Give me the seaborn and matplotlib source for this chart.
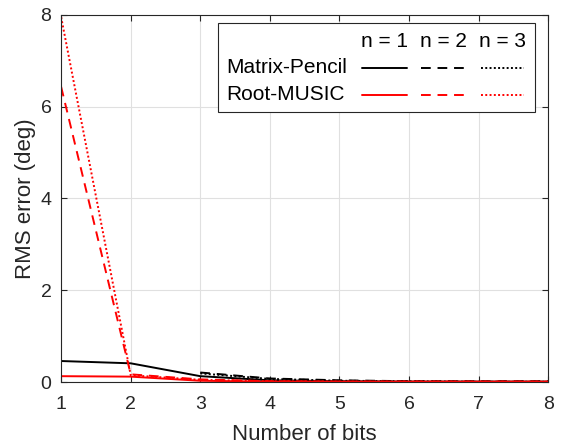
import numpy as np
import pandas as pd
import matplotlib
matplotlib.use("Agg")
import matplotlib.pyplot as plt
import seaborn as sns
from matplotlib.lines import Line2D
from matplotlib.patches import Rectangle

bits = [1, 2, 3, 4, 5, 6, 7, 8]
mp_n1 = [0.46, 0.41, 0.13, 0.04, 0.02, 0.01, 0.01, 0.01]
mp_n2 = [np.nan, np.nan, 0.21, 0.08, 0.04, 0.02, 0.02, 0.02]
mp_n3 = [np.nan, np.nan, 0.19, 0.07, 0.03, 0.02, 0.01, 0.01]
rm_n1 = [0.13, 0.12, 0.03, 0.01, 0.01, 0.01, 0.01, 0.01]
rm_n2 = [6.43, 0.17, 0.06, 0.02, 0.01, 0.01, 0.01, 0.01]
rm_n3 = [7.95, 0.15, 0.05, 0.02, 0.01, 0.01, 0.01, 0.01]

series = [
    ("Matrix-Pencil", "n = 1", mp_n1),
    ("Matrix-Pencil", "n = 2", mp_n2),
    ("Matrix-Pencil", "n = 3", mp_n3),
    ("Root-MUSIC", "n = 1", rm_n1),
    ("Root-MUSIC", "n = 2", rm_n2),
    ("Root-MUSIC", "n = 3", rm_n3),
]
rows = []
for method, n, vals in series:
    for b, v in zip(bits, vals):
        rows.append({"method": method, "n": n, "bits": b, "rms": v})
df = pd.DataFrame(rows)

sns.set_theme(style="white")
plt.rcParams['font.family'] = ['Liberation Sans', 'DejaVu Sans']

colors = {"Matrix-Pencil": "black", "Root-MUSIC": "#ff0000"}
dashes = {"n = 1": (None, None), "n = 2": (5, 3.5), "n = 3": (1, 1.2)}

fig = plt.figure(figsize=(5.61, 4.48), dpi=100)
ax = fig.add_axes([0.109, 0.147, 0.868, 0.820])

for method, n, vals in series:
    sub = df[(df.method == method) & (df.n == n)].dropna()
    sns.lineplot(data=sub, x="bits", y="rms", ax=ax, color=colors[method],
                 linewidth=1.4, legend=False)
    line = ax.lines[-1]
    if n != "n = 1":
        line.set_dashes(dashes[n])

ax.set_xlim(1, 8)
ax.set_ylim(0, 8)
ax.set_xticks(range(1, 9))
ax.set_yticks([0, 2, 4, 6, 8])
ax.grid(True, color="#e0e0e0", linewidth=0.8)
ax.set_axisbelow(True)
for s in ax.spines.values():
    s.set_color("#262626")
    s.set_linewidth(0.8)
    s.set_visible(True)
ax.tick_params(direction="in", top=True, right=True, length=4, width=0.8,
               colors="#262626", labelsize=14, labelcolor="#262626",
               bottom=True, left=True)
ax.tick_params(axis="x", pad=10)
ax.tick_params(axis="y", pad=7)
ax.set_xlabel("Number of bits", fontsize=16, color="#262626", labelpad=8)
ax.set_ylabel("RMS error (deg)", fontsize=16, color="#262626", labelpad=3)

# custom tabular legend
def axc(px, py):
    return ((px - 61) / 487.0, (382 - py) / 367.0)

x0, y0 = axc(218, 112)
x1, y1 = axc(535, 23)
ax.add_patch(Rectangle((x0, y0), x1 - x0, y1 - y0, transform=ax.transAxes,
                       facecolor="white", edgecolor="#262626", linewidth=0.8,
                       zorder=5))
headers = ["n = 1", "n = 2", "n = 3"]
line_x = [(362, 407), (421, 466), (481, 524)]
for h, (a, b) in zip(headers, line_x):
    cx, cy = axc((a + b) / 2, 42)
    ax.text(cx, cy, h, transform=ax.transAxes, ha="center", va="center",
            fontsize=15, color="black", zorder=6)
for method, py in [("Matrix-Pencil", 68), ("Root-MUSIC", 95)]:
    tx, ty = axc(226, py)
    ax.text(tx, ty, method, transform=ax.transAxes, ha="left", va="center",
            fontsize=15, color="black", zorder=6)
    for n, (a, b) in zip(headers, line_x):
        (la, ly), (lb, _) = axc(a, py), axc(b, py)
        ln = Line2D([la, lb], [ly, ly], transform=ax.transAxes,
                    color=colors[method], linewidth=1.4, zorder=6)
        if n != "n = 1":
            ln.set_dashes(dashes[n])
        ax.add_line(ln)

fig.savefig("out.png", dpi=100)
